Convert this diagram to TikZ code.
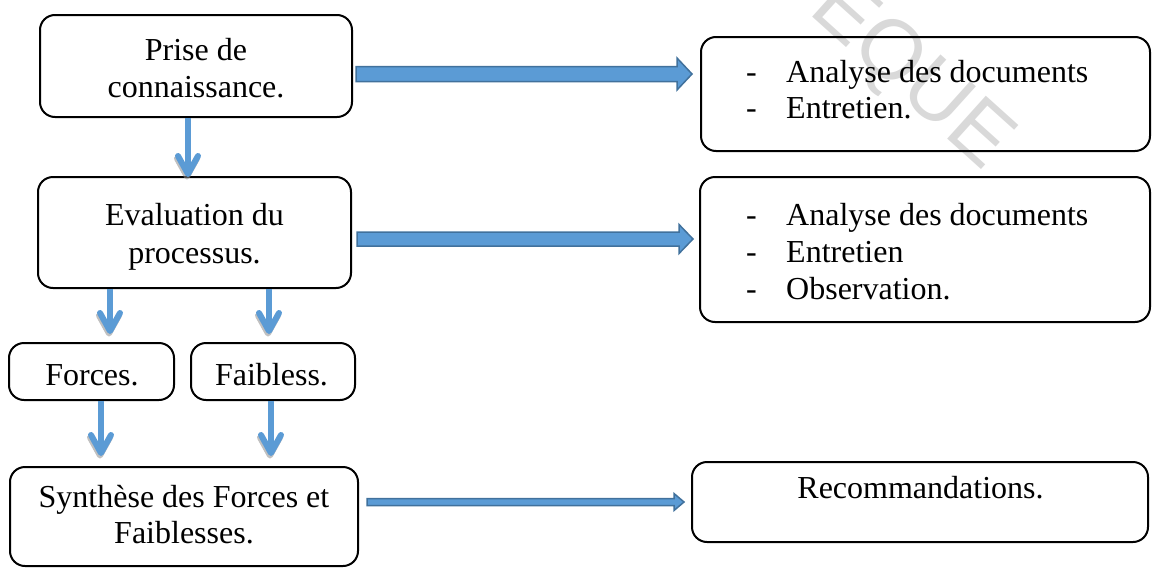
\documentclass[tikz,border=0pt]{standalone}
\usepackage{fontspec}
\setmainfont{Liberation Serif}
\newfontfamily\wmfont{Liberation Sans}
\usetikzlibrary{calc}

\definecolor{flowblue}{HTML}{5B9BD5}
\definecolor{flowedge}{HTML}{41719C}
\definecolor{wmgray}{HTML}{D9D9D9}

\tikzset{
  box/.style 2 args={draw=black, line width=2pt, rounded corners=15pt,
    minimum width=#1pt, minimum height=#2pt, inner sep=0pt},
  lbl/.style={font=\fontsize{32}{37}\selectfont, inner sep=0pt, anchor=base},
  item/.style={font=\fontsize{32}{37}\selectfont, inner sep=0pt, anchor=base west},
  wm/.style={font=\wmfont\fontsize{84}{84}\selectfont, text=wmgray, inner sep=0pt},
  chevshaft/.style={draw=flowblue, line width=6pt, line cap=butt},
  chevhead/.style={draw=flowblue, line width=6pt, line cap=round, line join=round},
  chevshadow/.style={draw=black!45, opacity=0.55, line width=6pt, line cap=round, line join=round},
  blockarrow/.style={fill=flowblue, draw=flowedge, line width=1.5pt, line join=miter},
}

% down arrow with an open chevron head: #1 start, #2 tip
\newcommand\chevron[2]{%
  \draw[chevshadow] ($(#2)+(-11,-15.5)$) -- ($(#2)+(-1,2.5)$) -- ($(#2)+(9,-15.5)$);
  \draw[chevshaft] (#1) -- ($(#2)+(0,-2)$);
  \draw[chevhead] ($(#2)+(-10,-18)$) -- (#2) -- ($(#2)+(10,-18)$);
}

% filled block arrow pointing right: #1 start, #2 tip, #3 half shaft, #4 half head, #5 head length
\newcommand\blockarrow[5]{%
  \filldraw[blockarrow] let \p1=(#1), \p2=(#2) in
    (\x1,\y1+#3) -- (\x2-#5,\y1+#3) -- (\x2-#5,\y1+#4) -- (\x2,\y1)
    -- (\x2-#5,\y1-#4) -- (\x2-#5,\y1-#3) -- (\x1,\y1-#3) -- cycle;
}

\begin{document}
\begin{tikzpicture}[x=1pt,y=-1pt]
\useasboundingbox (0,0) rectangle (1152,568);

% faint watermark behind everything
\begin{scope}
  \clip (0,0) rectangle (1152,568);
  \node[wm, rotate=-42] (mark) at (910,76) {EQUE};
\end{scope}

% left column
\node[box={312}{102}] (b1) at (196,66) {};
\node[box={313}{111}] (b2) at (194.5,232.5) {};
\node[box={165}{57}]  (bf) at (91.5,371.5) {};
\node[box={164}{57}]  (bw) at (273,371.5) {};
\node[box={348}{99}]  (bs) at (184,516.5) {};

% right column
\node[box={449}{114}] (r1) at (925.5,94) {};
\node[box={450}{145}] (r2) at (925,249.5) {};
\node[box={456}{80}]  (rr) at (920,502) {};

% texts of the left column
\node[lbl] (t1a) at (196,60) {Prise de};
\node[lbl] (t1b) at (196,97) {connaissance.};
\node[lbl] (t2a) at (194.5,225) {Evaluation du};
\node[lbl] (t2b) at (194.5,263) {processus.};
\node[lbl] (tf)  at (92,385) {Forces.};
\node[lbl] (tw)  at (271.5,385) {Faibless.};
\node[lbl] (tsa) at (184,507) {Synthèse des Forces et};
\node[lbl] (tsb) at (184,543) {Faiblesses.};

% texts of the right column
\node[item] (r1d1) at (746,82) {-};
\node[item] (r1t1) at (786,82) {Analyse des documents};
\node[item] (r1d2) at (746,118) {-};
\node[item] (r1t2) at (786,118) {Entretien.};

\node[item] (r2d1) at (746,225) {-};
\node[item] (r2t1) at (786,225) {Analyse des documents};
\node[item] (r2d2) at (746,262) {-};
\node[item] (r2t2) at (786,262) {Entretien};
\node[item] (r2d3) at (746,299) {-};
\node[item] (r2t3) at (786,299) {Observation.};

\node[lbl] (tr) at (920.5,498) {Recommandations.};

% vertical connectors
\path (b1.south -| 188,0) coordinate (v1s);
\path (b2.north -| 188,0) ++(0,-2) coordinate (v1t);
\chevron{v1s}{v1t}

\path (b2.south -| 110,0) coordinate (v2s);
\path (bf.north -| 110,0) ++(0,-11) coordinate (v2t);
\chevron{v2s}{v2t}

\path (b2.south -| 269,0) coordinate (v3s);
\path (bw.north -| 269,0) ++(0,-11) coordinate (v3t);
\chevron{v3s}{v3t}

\path (bf.south -| 101,0) coordinate (v4s);
\path (bs.north -| 101,0) ++(0,-13) coordinate (v4t);
\chevron{v4s}{v4t}

\path (bw.south -| 271,0) coordinate (v5s);
\path (bs.north -| 271,0) ++(0,-13) coordinate (v5t);
\chevron{v5s}{v5t}

% horizontal connectors
\path (b1.east |- 0,74) ++(3,0) coordinate (h1s);
\path (r1.west |- 0,74) ++(-8,0) coordinate (h1t);
\blockarrow{h1s}{h1t}{7.5pt}{16pt}{15pt}

\path (b2.east |- 0,239) ++(5,0) coordinate (h2s);
\path (r2.west |- 0,239) ++(-6,0) coordinate (h2t);
\blockarrow{h2s}{h2t}{7pt}{14.5pt}{14pt}

\path (bs.east |- 0,502) ++(8,0) coordinate (h3s);
\path (rr.west |- 0,502) ++(-7,0) coordinate (h3t);
\blockarrow{h3s}{h3t}{3.5pt}{8.5pt}{10pt}
\end{tikzpicture}
\end{document}
